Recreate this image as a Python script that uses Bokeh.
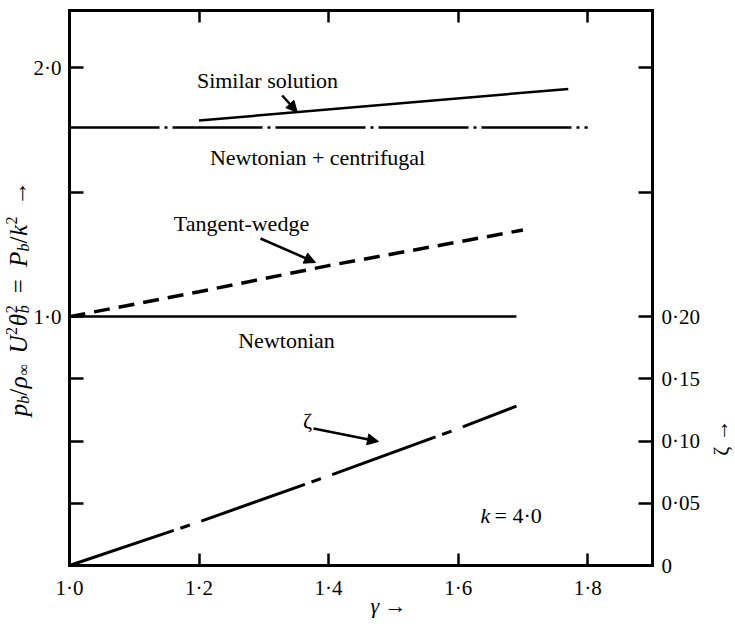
from bokeh.plotting import figure
from bokeh.models import (Range1d, LinearAxis, FixedTicker, CustomJSTickFormatter,
                          Label, Arrow, NormalHead)
from bokeh.embed import file_html
from bokeh.resources import INLINE

# ---------------- data ----------------
similar_gamma = [1.2, 1.77]
similar_p = [1.788, 1.915]

nc_gamma = [1.0, 1.8]
nc_p = [1.76, 1.76]

tw_gamma = [1.0, 1.2, 1.4, 1.6, 1.7]
tw_p = [1.0, 1.10, 1.205, 1.30, 1.348]

newt_gamma = [1.0, 1.69]
newt_p = [1.0, 1.0]

zeta_gamma = [1.0, 1.2, 1.4, 1.6, 1.69]
zeta_vals = [0.0, 0.035, 0.072, 0.110, 0.128]

x_ticks = [1.0, 1.2, 1.4, 1.6, 1.8]
x_tick_labels = ["1·0", "1·2", "1·4", "1·6", "1·8"]
top_ticks = [1.2, 1.4, 1.6, 1.8]
y_ticks = [0.25, 0.5, 0.75, 1.0, 1.5, 2.0]
y_tick_labels = ["", "", "", "1·0", "", "2·0"]
zeta_ticks = [0.0, 0.05, 0.10, 0.15, 0.20, 0.30, 0.40]
zeta_tick_labels = ["0", "0·05", "0·10", "0·15", "0·20", "", ""]

# axis box (data)
X0, X1 = 1.0, 1.9
Y0, Y1 = 0.0, 2.23
ZSCALE = 0.2          # zeta = 0.2 * (left-axis value)

# ---------------- layout (pixels) ----------------
W, H = 733, 625
BOX_L, BOX_R, BOX_T, BOX_B = 69, 652, 10, 565
FONT = "Liberation Serif"

xpp = (X1 - X0) / (BOX_R - BOX_L)
ypp = (Y1 - Y0) / (BOX_B - BOX_T)
xr = Range1d(X0 - BOX_L * xpp, X1 + (W - BOX_R) * xpp)
yr_ = Range1d(Y0 - (H - BOX_B) * ypp, Y1 + BOX_T * ypp)


def to_data(px, py):
    return X0 + (px - BOX_L) * xpp, Y1 - (py - BOX_T) * ypp


p = figure(width=W, height=H, x_range=xr, y_range=yr_,
           output_backend="svg", toolbar_location=None,
           x_axis_location=None, y_axis_location=None,
           min_border_left=0, min_border_right=0,
           min_border_top=0, min_border_bottom=0)
p.extra_y_ranges = {"zeta": Range1d(yr_.start * ZSCALE, yr_.end * ZSCALE)}
p.xgrid.visible = False
p.ygrid.visible = False
p.outline_line_color = None
p.background_fill_color = "white"
p.border_fill_color = "white"


def fmt(tvals, tlabels):
    return CustomJSTickFormatter(args=dict(tv=tvals, tl=tlabels), code="""
        for (let i = 0; i < tv.length; i++) {
            if (Math.abs(tv[i] - tick) < 1e-6) return tl[i];
        }
        return "";
    """)


def style(ax, tick_in, standoff, size="21px"):
    ax.axis_line_width = 3
    ax.axis_line_color = "black"
    ax.axis_line_cap = "square"
    ax.major_tick_in = tick_in
    ax.major_tick_out = 0
    ax.major_tick_line_width = 2.5
    ax.major_tick_line_color = "black"
    ax.minor_tick_line_color = None
    ax.major_label_text_font = FONT
    ax.major_label_text_font_size = size
    ax.major_label_standoff = standoff
    ax.major_label_text_color = "black"


xb = LinearAxis(ticker=FixedTicker(ticks=x_ticks), formatter=fmt(x_ticks, x_tick_labels),
                fixed_location=Y0, bounds=(X0, X1))
style(xb, 12, 10)
p.add_layout(xb, "below")

xt = LinearAxis(ticker=FixedTicker(ticks=top_ticks),
                formatter=fmt(top_ticks, [""] * len(top_ticks)),
                fixed_location=Y1, bounds=(X0, X1))
style(xt, 12, 0, "1px")
p.add_layout(xt, "above")

yl = LinearAxis(ticker=FixedTicker(ticks=y_ticks), formatter=fmt(y_ticks, y_tick_labels),
                fixed_location=X0, bounds=(Y0, Y1))
style(yl, 14, 8)
p.add_layout(yl, "left")

yr = LinearAxis(y_range_name="zeta", ticker=FixedTicker(ticks=zeta_ticks),
                formatter=fmt(zeta_ticks, zeta_tick_labels),
                fixed_location=X1, bounds=(Y0 * ZSCALE, Y1 * ZSCALE))
style(yr, 14, 9)
p.add_layout(yr, "right")

# ---------------- curves ----------------
p.line(similar_gamma, similar_p, line_width=2.5, line_color="black")
p.line(nc_gamma, nc_p, line_width=2.5, line_color="black", line_dash="90 5 3 5")
p.line(tw_gamma, tw_p, line_width=3.5, line_color="black", line_dash="16 9")
p.line(newt_gamma, newt_p, line_width=2.5, line_color="black")
p.line(zeta_gamma, zeta_vals, line_width=3, line_color="black",
       line_dash="110 7 10 12", y_range_name="zeta")


# ---------------- annotations ----------------
def text(t, px, py, size=22, style_="normal", align="center", baseline="middle", angle=0):
    x, y = to_data(px, py)
    p.add_layout(Label(x=x, y=y, text=t, text_font=FONT, text_font_size=f"{size}px",
                       text_font_style=style_, text_align=align, text_baseline=baseline,
                       text_color="black", angle=angle, angle_units="deg"))


def arrow(px0, py0, px1, py1, size=11):
    xa, ya = to_data(px0, py0)
    xb_, yb_ = to_data(px1, py1)
    p.add_layout(Arrow(end=NormalHead(size=size, fill_color="black", line_color="black"),
                       x_start=xa, y_start=ya, x_end=xb_, y_end=yb_,
                       line_width=2.5, line_color="black"))


text("Similar solution", 267, 80)
text("Newtonian + centrifugal", 317, 157)
text("Tangent-wedge", 241, 223)
text("Newtonian", 286, 340)
text("ζ", 307, 420)
text("k", 480, 515, style_="italic", align="left")
text("= 4·0", 494, 515, align="left")
text("γ →", 388, 605, style_="italic")
text("ζ →", 720, 437, size=22, angle=90)

arrow(281.7, 95, 296.7, 111.7, 11)
arrow(260, 238, 315, 262, 11)
arrow(313, 428, 378, 441, 11)

# rotated y-axis label built from pieces (reading upward)
MAIN, SMALL = 25, 16
pieces = [
    # text, size, style, shift(0 base, 1 sub, -1 sup), advance(em)
    ("p", MAIN, "italic", 0, 0.50),
    ("b", SMALL, "italic", 1, 0.50),
    ("/", MAIN, "normal", 0, 0.30),
    ("ρ", MAIN, "italic", 0, 0.52),
    ("∞", SMALL, "normal", 1, 0.74),
    (" ", MAIN, "normal", 0, 0.40),
    ("U", MAIN, "italic", 0, 0.74),
    ("2", SMALL, "normal", -1, 0.55),
    ("θ", MAIN, "italic", 0, 0.52),
    ("2", SMALL, "normal", -1, 0.0),
    ("b", SMALL, "italic", 1, 0.55),
    (" ", MAIN, "normal", 0, 0.45),
    ("=", MAIN, "normal", 0, 0.60),
    (" ", MAIN, "normal", 0, 0.45),
    ("P", MAIN, "italic", 0, 0.62),
    ("b", SMALL, "italic", 1, 0.50),
    ("/", MAIN, "normal", 0, 0.30),
    ("k", MAIN, "italic", 0, 0.46),
    ("2", SMALL, "normal", -1, 0.55),
    (" ", MAIN, "normal", 0, 0.40),
    ("→", MAIN, "normal", 0, 1.00),
]
total = sum(sz * adv for _, sz, _, _, adv in pieces)
center_y = 298
base_x = 18
s = 0.0
start_y = center_y + total / 2
for t, sz, st, sh, adv in pieces:
    if t.strip():
        bx = base_x + (5 if sh == 1 else (-7 if sh == -1 else 0))
        text(t, bx, start_y - s, size=sz, style_=st, align="left",
             baseline="alphabetic", angle=90)
    s += sz * adv

open("out.html", "w").write(file_html(p, INLINE))
